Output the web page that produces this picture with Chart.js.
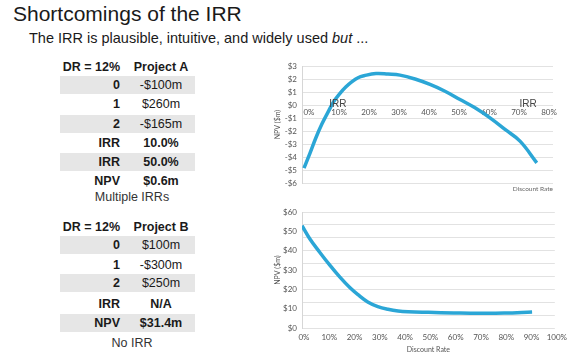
<!DOCTYPE html>
<html>
<head>
<meta charset="utf-8">
<script src="https://cdn.jsdelivr.net/npm/chart.js@4.4.1/dist/chart.umd.min.js"></script>
<style>
  body { margin: 0; width: 576px; height: 354px; background: #fff; position: relative; overflow: hidden; font-family: "Liberation Sans", Arial, sans-serif; color: #1a1a1a; }
  .abs { position: absolute; }
  #title { left: 13px; top: 2px; font-size: 21px; }
  #sub { left: 29px; top: 30px; font-size: 14.5px; }
  .row { position: absolute; left: 60px; width: 135px; height: 18px; line-height: 18px; font-size: 12.5px; }
  .row.shade { background: #e6e6e6; }
  .row .lab { position: absolute; right: 75px; font-weight: bold; }
  .row .val { position: absolute; left: 66px; width: 70px; text-align: center; }
  .row .val.b { font-weight: bold; }
  .note { position: absolute; left: 82px; width: 100px; text-align: center; font-size: 12.5px; color: #333; }
  canvas { position: absolute; }
</style>
</head>
<body>
<div id="title" class="abs">Shortcomings of the IRR</div>
<div id="sub" class="abs">The IRR is plausible, intuitive, and widely used <i>but</i> ...</div>
<div id="tables"></div>
<canvas id="chartA" width="320" height="145" style="left:250px;top:55px;width:320px;height:145px"></canvas>
<canvas id="chartB" width="320" height="154" style="left:250px;top:200px;width:320px;height:154px"></canvas>
<script>
// table contents
var tableA = [
  ["DR = 12%", "Project A", true],
  ["0", "-$100m", false],
  ["1", "$260m", false],
  ["2", "-$165m", false],
  ["IRR", "10.0%", true],
  ["IRR", "50.0%", true],
  ["NPV", "$0.6m", true]
];
var tableB = [
  ["DR = 12%", "Project B", true],
  ["0", "$100m", false],
  ["1", "-$300m", false],
  ["2", "$250m", false],
  ["IRR", "N/A", true],
  ["NPV", "$31.4m", true]
];
var noteA = "Multiple IRRs";
var noteB = "No IRR";

// chart data (discount rate %, NPV $m)
var ratesA = [0, 2, 4, 6, 8, 10, 12, 14, 16, 18, 20, 24, 28, 32, 37, 42, 47, 52, 57, 62, 67, 72, 77.6];
var npvA = [-4.85, -3.7, -2.5, -1.45, -0.55, 0.3, 0.9, 1.4, 1.8, 2.1, 2.25, 2.42, 2.38, 2.3, 2.0, 1.58, 1.06, 0.42, -0.22, -0.99, -1.88, -2.78, -4.45];
var irrLabelsA = [11.3, 74.7];

var ratesB = [0, 3, 7, 11, 15, 19, 22, 26, 30, 34, 38, 42, 50, 60, 70, 80, 91];
var npvB = [52.9, 46.3, 39.2, 32.5, 26.3, 20.8, 17.4, 13.5, 11.1, 9.7, 8.8, 8.4, 8.1, 7.8, 7.6, 7.7, 8.3];

var blue = '#2ba6d6';
var grid = '#e2e2e2';
var tickCol = '#555';

function buildTable(rows, centers, shaded, note, noteY) {
  var box = document.getElementById('tables');
  rows.forEach(function (r, i) {
    var d = document.createElement('div');
    d.className = 'row' + (shaded.indexOf(i) >= 0 ? ' shade' : '');
    d.style.top = (centers[i] - 9) + 'px';
    var l = document.createElement('span');
    l.className = 'lab';
    l.textContent = r[0];
    var v = document.createElement('span');
    v.className = 'val' + (r[2] ? ' b' : '');
    v.textContent = r[1];
    d.appendChild(l); d.appendChild(v);
    box.appendChild(d);
  });
  var n = document.createElement('div');
  n.className = 'note';
  n.style.top = (noteY - 9) + 'px';
  n.textContent = note;
  box.appendChild(n);
}
buildTable(tableA, [67, 85, 104, 124, 143, 162, 181], [1, 3, 5], noteA, 199);
buildTable(tableB, [227, 245, 265, 283, 304, 323], [1, 3, 5], noteB, 345);

Chart.defaults.font.family = 'Lato, "Liberation Sans", sans-serif';
Chart.defaults.color = tickCol;

var labelsPlugin = {
  id: 'irrLabels',
  afterDatasetsDraw: function (chart) {
    var ctx = chart.ctx, x = chart.scales.x, y = chart.scales.y;
    ctx.save();
    ctx.fillStyle = '#444';
    ctx.font = '10px "Liberation Sans", sans-serif';
    ctx.textAlign = 'center';
    ctx.textBaseline = 'middle';
    irrLabelsA.forEach(function (r) {
      ctx.fillText('IRR', x.getPixelForValue(r), y.getPixelForValue(0) - 1);
    });
    ctx.font = '6.5px Lato, sans-serif';
    ctx.fillStyle = '#666';
    ctx.textAlign = 'right';
    ctx.fillText('Discount Rate', chart.chartArea.right, chart.chartArea.bottom + 6);
    ctx.restore();
  }
};

new Chart(document.getElementById('chartA').getContext('2d'), {
  type: 'line',
  data: {
    datasets: [{
      data: ratesA.map(function (r, i) { return { x: r, y: npvA[i] }; }),
      borderColor: blue,
      borderWidth: 3.5,
      pointRadius: 0,
      tension: 0.4,
      fill: false
    }]
  },
  options: {
    responsive: false,
    animation: false,
    layout: { padding: { top: 11, right: 17, bottom: 17, left: 0 } },
    plugins: { legend: { display: false }, tooltip: { enabled: false } },
    scales: {
      x: {
        type: 'linear',
        position: { y: 0 },
        min: -0.67, max: 83,
        grid: { display: false, drawTicks: false },
        border: { display: false },
        ticks: { stepSize: 10, includeBounds: false, padding: 3, labelOffset: 5, font: { size: 8 }, maxRotation: 0,
          callback: function (v) { return v + '%'; } }
      },
      y: {
        min: -6, max: 3,
        afterFit: function (s) { s.width = 52; },
        grid: { color: grid, drawTicks: false },
        border: { color: '#d6d6d6' },
        ticks: { stepSize: 1, padding: 5, font: { size: 8 },
          callback: function (v) { return (v < 0 ? '-$' : '$') + Math.abs(v); } },
        title: { display: true, text: 'NPV ($m)', font: { size: 7 }, padding: { top: 24, bottom: 0 } }
      }
    }
  },
  plugins: [labelsPlugin]
});

new Chart(document.getElementById('chartB').getContext('2d'), {
  type: 'line',
  data: {
    datasets: [{
      data: ratesB.map(function (r, i) { return { x: r, y: npvB[i] }; }),
      borderColor: blue,
      borderWidth: 3.5,
      pointRadius: 0,
      tension: 0.4,
      fill: false
    }]
  },
  options: {
    responsive: false,
    animation: false,
    layout: { padding: { top: 12, right: 13, bottom: 0, left: 0 } },
    plugins: { legend: { display: false }, tooltip: { enabled: false } },
    scales: {
      x: {
        type: 'linear',
        min: 0, max: 100,
        afterFit: function (s) { s.height = 26; },
        grid: { display: false, drawTicks: false },
        border: { display: false },
        ticks: { stepSize: 10, padding: 5, labelOffset: 2, font: { size: 8 }, maxRotation: 0,
          callback: function (v) { return v + '%'; } },
        title: { display: true, text: 'Discount Rate', font: { size: 7 }, padding: 0 }
      },
      y: {
        min: 0, max: 60,
        afterFit: function (s) { s.width = 52; },
        grid: { display: false, drawTicks: false },
        border: { color: '#d6d6d6' },
        ticks: { stepSize: 10, padding: 5, font: { size: 8 },
          callback: function (v) { return '$' + v; } },
        title: { display: true, text: 'NPV ($m)', font: { size: 7 }, padding: { top: 24, bottom: 0 } }
      },
      // the grid of this panel has nine bands, not aligned with the $10 labels
      yGrid: {
        position: 'left',
        min: 0, max: 9,
        display: true,
        afterFit: function (s) { s.width = 0; },
        grid: { color: grid, drawTicks: false },
        border: { display: false },
        ticks: { display: false, stepSize: 1 }
      }
    }
  }
});
</script>
</body>
</html>
